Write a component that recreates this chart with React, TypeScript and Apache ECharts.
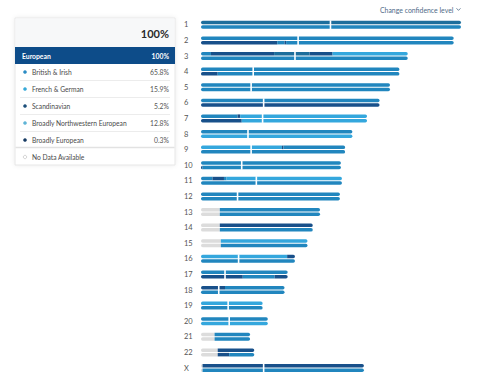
import React, { useEffect, useRef } from "react";
import * as echarts from "echarts";

const chromosomes = ["1","2","3","4","5","6","7","8","9","10","11","12","13","14","15","16","17","18","19","20","21","22","X"];
const chromLength = [249,242,198,190,181,171,159,145,138,134,135,133,114,107,102,90,83,80,59,64,47,51,156];
const centromere = [124,93,90,50,48,60,59,45,48,39,53,35,null,null,null,36,23,17,26,27,null,null,60];

// paint codes: M = British & Irish, L = French & German, D = Scandinavian, T = Broadly NW European, G = no data
const copyA: [number, number, string][][] = [
  [[0,249,"T"]],
  [[0,242,"M"]],
  [[0,9.5,"M"],[9.5,70,"D"],[70,104,"T"],[104,126,"D"],[126,198,"L"]],
  [[0,190,"M"]],
  [[0,181,"M"]],
  [[0,171,"M"]],
  [[0,35,"M"],[35,37.5,"D"],[37.5,159,"L"]],
  [[0,145,"M"]],
  [[0,77.5,"L"],[77.5,79,"D"],[79,138,"M"]],
  [[0,134,"M"]],
  [[0,11,"M"],[11,22,"D"],[22,24.5,"M"],[24.5,135,"L"]],
  [[0,133,"M"]],
  [[0,18,"G"],[18,114,"M"]],
  [[0,18,"G"],[18,107,"D"]],
  [[0,19,"G"],[19,102,"L"]],
  [[0,82.5,"L"],[82.5,90,"D"]],
  [[0,83,"M"]],
  [[0,23,"D"],[23,80,"M"]],
  [[0,59,"L"]],
  [[0,64,"M"]],
  [[0,13,"G"],[13,47,"M"]],
  [[0,16,"G"],[16,51,"D"]],
  [[0,1.5,"G"],[1.5,156,"D"]],
];
const copyB: [number, number, string][][] = [
  [[0,249,"M"]],
  [[0,73,"D"],[73,80,"M"],[80,81.5,"D"],[81.5,242,"M"]],
  [[0,198,"M"]],
  [[0,16,"D"],[16,190,"M"]],
  [[0,181,"M"]],
  [[0,171,"D"]],
  [[0,39,"D"],[39,159,"L"]],
  [[0,145,"L"]],
  [[0,138,"M"]],
  [[0,1.5,"D"],[1.5,134,"M"]],
  [[0,135,"M"]],
  [[0,133,"M"]],
  [[0,18,"G"],[18,114,"M"]],
  [[0,18,"G"],[18,107,"M"]],
  [[0,19,"G"],[19,102,"M"]],
  [[0,90,"M"]],
  [[0,40,"D"],[40,70.5,"M"],[70.5,83,"D"]],
  [[0,80,"M"]],
  [[0,59,"M"]],
  [[0,64,"L"]],
  [[0,13,"G"],[13,47,"M"]],
  [[0,16,"G"],[16,27,"D"],[27,51,"M"]],
  [[0,1.5,"G"],[1.5,156,"M"]],
];

const paintCodes = ["M", "L", "D", "T", "G"];
const paintColors = ["#2186be", "#34a7dd", "#18508a", "#1d6e9c", "#dcdcdc"];

const legendNames = ["British & Irish", "French & German", "Scandinavian", "Broadly Northwestern European", "Broadly European"];
const legendPcts = ["65.8%", "15.9%", "5.2%", "12.8%", "0.3%"];
const legendColors = ["#2b8cc4", "#36a9d8", "#1c4f7a", "#5fb4d6", "#163a62"];

const FONT = "Lato, 'Open Sans', sans-serif";

export default function App() {
  const ref = useRef<HTMLDivElement>(null);
  useEffect(() => {
    const chart = echarts.init(ref.current!, null, { renderer: "svg" });

    const segData: number[][] = [];
    [copyA, copyB].forEach((copies, ci) => {
      copies.forEach((segs, row) => {
        segs.forEach((s, k) => {
          segData.push([s[0], s[1], row, ci, paintCodes.indexOf(s[2]), k === 0 ? 1 : 0, k === segs.length - 1 ? 1 : 0]);
        });
      });
    });
    const cenData: number[][] = [];
    centromere.forEach((c, row) => {
      if (c !== null) cenData.push([c, row]);
    });

    const graphics: any[] = [];
    graphics.push({
      type: "rect", shape: { x: 15, y: 18, width: 160, height: 147 },
      style: { fill: "#fff", stroke: "#e6e6e6", lineWidth: 1, shadowBlur: 4, shadowColor: "rgba(0,0,0,0.08)" },
    });
    graphics.push({ type: "rect", shape: { x: 15.5, y: 18.5, width: 159, height: 28.5 }, style: { fill: "#f7f8f9" } });
    graphics.push({
      type: "text", x: 169, y: 33,
      style: { text: "100%", fontSize: 11, fontWeight: "bold", fill: "#2a2a2a", align: "right", verticalAlign: "middle", fontFamily: FONT },
    });
    graphics.push({ type: "rect", shape: { x: 15, y: 47, width: 160, height: 17 }, style: { fill: "#0d4c89" } });
    graphics.push({
      type: "text", x: 22, y: 55.5,
      style: { text: "European", fontSize: 6.8, fontWeight: "bold", fill: "#fff", verticalAlign: "middle", fontFamily: FONT },
    });
    graphics.push({
      type: "text", x: 169, y: 55.5,
      style: { text: "100%", fontSize: 6.8, fontWeight: "bold", fill: "#fff", align: "right", verticalAlign: "middle", fontFamily: FONT },
    });
    legendNames.forEach((n, i) => {
      const cy = 72 + 17 * i;
      graphics.push({ type: "circle", shape: { cx: 25, cy, r: 1.8 }, style: { fill: legendColors[i] } });
      graphics.push({
        type: "text", x: 32, y: cy,
        style: { text: n, fontSize: 6.7, fill: "#4a4a4a", verticalAlign: "middle", fontFamily: FONT },
      });
      graphics.push({
        type: "text", x: 169, y: cy,
        style: { text: legendPcts[i], fontSize: 6.8, fill: "#555", align: "right", verticalAlign: "middle", fontFamily: FONT },
      });
      if (i < 4) {
        graphics.push({ type: "line", shape: { x1: 20, y1: cy + 8.5, x2: 170, y2: cy + 8.5 }, style: { stroke: "#ececec", lineWidth: 1 } });
      }
    });
    graphics.push({ type: "line", shape: { x1: 15.5, y1: 147.5, x2: 174.5, y2: 147.5 }, style: { stroke: "#e2e2e2", lineWidth: 1.5 } });
    graphics.push({ type: "circle", shape: { cx: 25, cy: 157, r: 1.7 }, style: { fill: "#fff", stroke: "#c8c8c8", lineWidth: 0.8 } });
    graphics.push({
      type: "text", x: 32, y: 157,
      style: { text: "No Data Available", fontSize: 6.7, fill: "#4a4a4a", verticalAlign: "middle", fontFamily: FONT },
    });
    graphics.push({
      type: "text", x: 380, y: 9.5,
      style: { text: "Change confidence level", fontSize: 6.9, fill: "#4f6b88", verticalAlign: "middle", fontFamily: FONT },
    });
    graphics.push({
      type: "polyline", shape: { points: [[456.5, 8.3], [458.5, 10.4], [460.5, 8.3]] },
      style: { stroke: "#4f6b88", lineWidth: 0.8, fill: null },
    });

    chart.setOption({
      animation: false,
      grid: { left: 201, width: 260, top: 17, height: 358.8 },
      xAxis: { type: "value", min: 0, max: 249, show: false },
      yAxis: {
        type: "category", data: chromosomes, inverse: true,
        axisLine: { show: false }, axisTick: { show: false }, splitLine: { show: false },
        axisLabel: { align: "left", margin: 17, fontSize: 7.5, color: "#555", fontFamily: FONT },
      },
      series: [
        {
          type: "custom",
          data: segData,
          encode: { x: [0, 1], y: 2 },
          renderItem: (params: any, api: any) => {
            const s = api.coord([api.value(0), api.value(2)]);
            const e = api.coord([api.value(1), api.value(2)]);
            const copy = api.value(3);
            const color = paintColors[api.value(4)];
            const first = api.value(5) === 1;
            const last = api.value(6) === 1;
            const rr = 1.7;
            const y = copy === 0 ? s[1] - 4 : s[1] + 0.5;
            return {
              type: "rect",
              shape: { x: s[0], y, width: e[0] - s[0], height: 3.5, r: [first ? rr : 0, last ? rr : 0, last ? rr : 0, first ? rr : 0] },
              style: { fill: color },
            };
          },
          z: 2,
        },
        {
          type: "custom",
          data: cenData,
          encode: { x: 0, y: 1 },
          renderItem: (params: any, api: any) => {
            const p = api.coord([api.value(0), api.value(1)]);
            return {
              type: "rect",
              shape: { x: p[0] - 0.8, y: p[1] - 4.5, width: 1.6, height: 9 },
              style: { fill: "#ffffff" },
            };
          },
          z: 3,
        },
      ],
      graphic: graphics,
    });
    return () => chart.dispose();
  }, []);
  return <div ref={ref} style={{ position: "absolute", left: 0, top: 0, width: 480, height: 382, background: "#fff" }} />;
}
